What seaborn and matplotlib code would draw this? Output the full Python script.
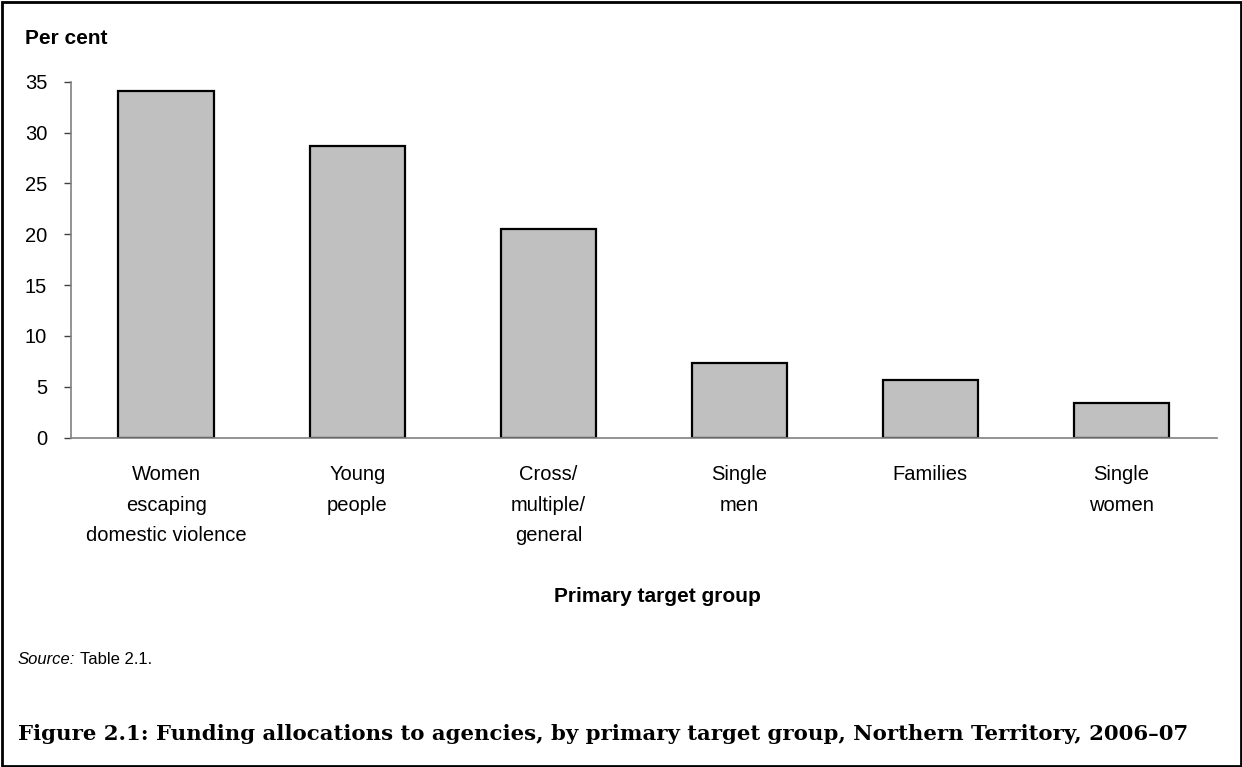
import matplotlib
matplotlib.use("Agg")
import matplotlib.pyplot as plt
import seaborn as sns
from matplotlib.patches import Rectangle

# data
groups = ["Women\nescaping\ndomestic violence", "Young\npeople", "Cross/\nmultiple/\ngeneral",
          "Single\nmen", "Families", "Single\nwomen"]
shares = [34.1, 28.7, 20.5, 7.3, 5.7, 3.4]
yticks = [0, 5, 10, 15, 20, 25, 30, 35]

sns.set_style("white")
plt.rcParams["font.family"] = ["Liberation Sans", "DejaVu Sans"]
plt.rcParams["text.color"] = "black"
plt.rcParams["xtick.labelcolor"] = "black"
plt.rcParams["ytick.labelcolor"] = "black"

W, H = 1242, 767
fig = plt.figure(figsize=(W / 100, H / 100), dpi=100)
ax = fig.add_axes([70.7 / W, 1 - 437.7 / H, (1217 - 70.7) / W, (437.7 - 81.7) / H])

sns.barplot(x=groups, y=shares, color="#C0C0C0", edgecolor="black", linewidth=1.6,
            width=0.5, saturation=1, ax=ax)

ax.set_ylim(0, 35)
ax.set_xlim(-0.5, len(groups) - 0.5)
ax.set_yticks(yticks)
ax.tick_params(axis="y", length=5, width=1, color="#404040", pad=12, labelsize=14.5,
               labelcolor="black", left=True)
ax.tick_params(axis="x", length=0, pad=20, labelsize=14.5, labelcolor="black")
for lbl in ax.get_xticklabels():
    lbl.set_linespacing(1.75)
for side in ["top", "right"]:
    ax.spines[side].set_visible(False)
for side in ["left", "bottom"]:
    ax.spines[side].set_color("#808080")
    ax.spines[side].set_linewidth(1.2)
ax.set_xlabel("")
ax.set_ylabel("")

fig.text(25 / W, 1 - 38 / H, "Per cent", fontsize=15, fontweight="bold", va="center", ha="left")
fig.text(657 / W, 1 - 597 / H, "Primary target group", fontsize=15, fontweight="bold",
         va="center", ha="center")

# source note: italic word followed by plain text
src = fig.text(18 / W, 1 - 664 / H, "Source:", fontsize=12, style="italic", va="baseline", ha="left")
ax.annotate("Table 2.1.", xy=(1, 0), xycoords=src, xytext=(3.5, 0), textcoords="offset points",
            fontsize=12, va="bottom", ha="left", annotation_clip=False)

fig.text(18 / W, 1 - 734 / H,
         "Figure 2.1: Funding allocations to agencies, by primary target group, Northern Territory, 2006\u201307",
         fontsize=15.3, fontweight="bold", family=["DejaVu Serif"],
         va="center", ha="left")

# frame round the whole figure
fig.patches.append(Rectangle((1.5 / W, 1.5 / H), 1 - 3 / W, 1 - 3 / H, transform=fig.transFigure,
                             fill=False, edgecolor="black", linewidth=2))

fig.savefig("out.png", dpi=100)
